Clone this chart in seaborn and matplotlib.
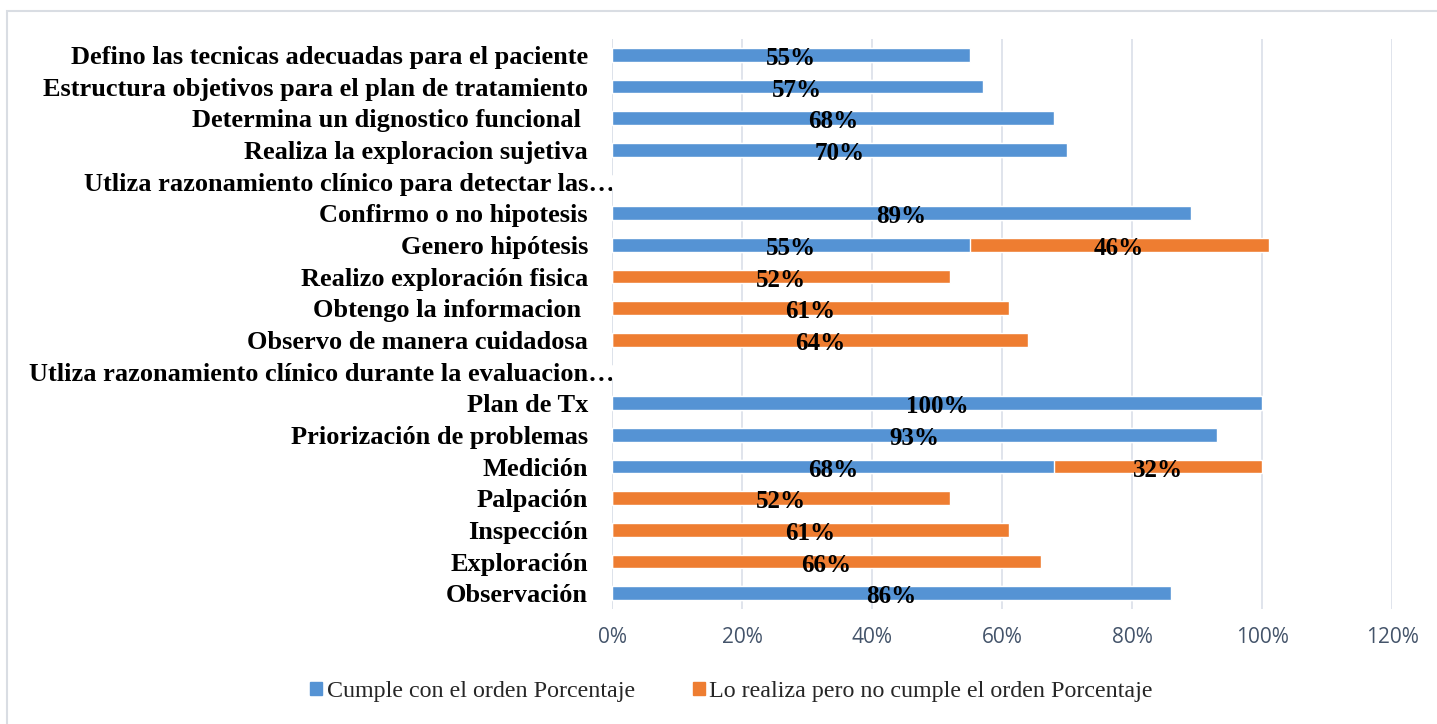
import numpy as np
import pandas as pd
import matplotlib
matplotlib.use("Agg")
import matplotlib.pyplot as plt
import matplotlib.transforms as mtransforms
from matplotlib.patches import Rectangle
import seaborn as sns

categories = [
    "Defino las tecnicas adecuadas para el paciente",
    "Estructura objetivos para el plan de tratamiento",
    "Determina un dignostico funcional ",
    "Realiza la exploracion sujetiva",
    "Utliza razonamiento clínico para detectar las…",
    "Confirmo o no hipotesis",
    "Genero hipótesis",
    "Realizo exploración fisica",
    "Obtengo la informacion ",
    "Observo de manera cuidadosa",
    "Utliza razonamiento clínico durante la evaluacion…",
    "Plan de Tx",
    "Priorización de problemas",
    "Medición",
    "Palpación",
    "Inspección",
    "Exploración",
    "Observación",
]
cumple = [0.55, 0.57, 0.68, 0.70, np.nan, 0.89, 0.55, np.nan, np.nan, np.nan,
          np.nan, 1.00, 0.93, 0.68, np.nan, np.nan, np.nan, 0.86]
no_cumple = [np.nan, np.nan, np.nan, np.nan, np.nan, np.nan, 0.46, 0.52, 0.61, 0.64,
             np.nan, np.nan, np.nan, 0.32, 0.52, 0.61, 0.66, np.nan]
series_names = ["Cumple con el orden Porcentaje", "Lo realiza pero no cumple el orden Porcentaje"]
xticks = [0, 0.2, 0.4, 0.6, 0.8, 1.0, 1.2]
xticklabels = ["0%", "20%", "40%", "60%", "80%", "100%", "120%"]

BLUE = "#5593d4"
ORANGE = "#ee7d31"

sns.set_theme(style="white")
plt.rcParams["font.family"] = ["Liberation Serif", "DejaVu Serif"]

df = pd.DataFrame({"cat": categories, "c": cumple, "n": no_cumple})
df["c0"] = df["c"].fillna(0)
df["n0"] = df["n"].fillna(0)
df["total"] = df["c0"] + df["n0"]

fig = plt.figure(figsize=(14.37, 7.24), dpi=100)
ax = fig.add_axes([0.4259, 0.1588, 0.5428, 0.7873])

sns.barplot(data=df, x="total", y="cat", color=ORANGE, saturation=1, width=0.44,
            orient="h", ax=ax, zorder=2)
sns.barplot(data=df, x="c0", y="cat", color=BLUE, saturation=1, width=0.44,
            orient="h", ax=ax, zorder=3)

ax.set_xlim(0, 1.2)
ax.set_ylim(len(categories) - 0.5, -0.5)
ax.set_xticks(xticks)
ax.set_xticklabels(xticklabels, family=["Open Sans", "DejaVu Sans"], fontsize=15, color="#44546a")
ax.set_xlabel("")
ax.set_ylabel("")
ax.xaxis.grid(True, color="#dde2ea", linewidth=1.3, zorder=0)
ax.set_axisbelow(True)
for s in ax.spines.values():
    s.set_visible(False)
ax.tick_params(axis="x", length=0, pad=13)
ax.tick_params(axis="y", length=0, pad=17.3)
ax.set_yticks(range(len(categories)))
ax.set_yticklabels(categories, fontsize=19, fontweight="bold", color="black")
ax.axvline(0, color="#dde2ea", linewidth=1.3, zorder=1)

# ellipsis labels extend further right
for lab in ax.get_yticklabels():
    if lab.get_text().endswith("…"):
        off = mtransforms.ScaledTranslation(27 / 100, 0, fig.dpi_scale_trans)
        lab.set_transform(lab.get_transform() + off)

# data labels
for i, (c, n) in enumerate(zip(cumple, no_cumple)):
    if not np.isnan(c):
        ax.text(c / 2, i + 0.12, f"{int(round(c*100))}%", ha="center", va="center",
                fontsize=18, fontweight="bold", color="black", zorder=5)
    if not np.isnan(n):
        base = 0 if np.isnan(c) else c
        ax.text(base + n / 2, i + 0.12, f"{int(round(n*100))}%", ha="center", va="center",
                fontsize=18, fontweight="bold", color="black", zorder=5)

handles = [Rectangle((0, 0), 1, 1, color=BLUE), Rectangle((0, 0), 1, 1, color=ORANGE)]
fig.legend(handles, series_names, loc="center", bbox_to_anchor=(0.509, 0.045),
           ncol=2, frameon=False, fontsize=17.3, handlelength=0.5, handleheight=0.5,
           handletextpad=0.2, columnspacing=2.4)

# outer border
fig.patches.append(Rectangle((7 / 1437, -0.05), 1.2, 1 - 11 / 724 + 0.05,
                             transform=fig.transFigure, fill=False,
                             edgecolor="#d9dde3", linewidth=1.5))

fig.savefig("out.png", dpi=100)
